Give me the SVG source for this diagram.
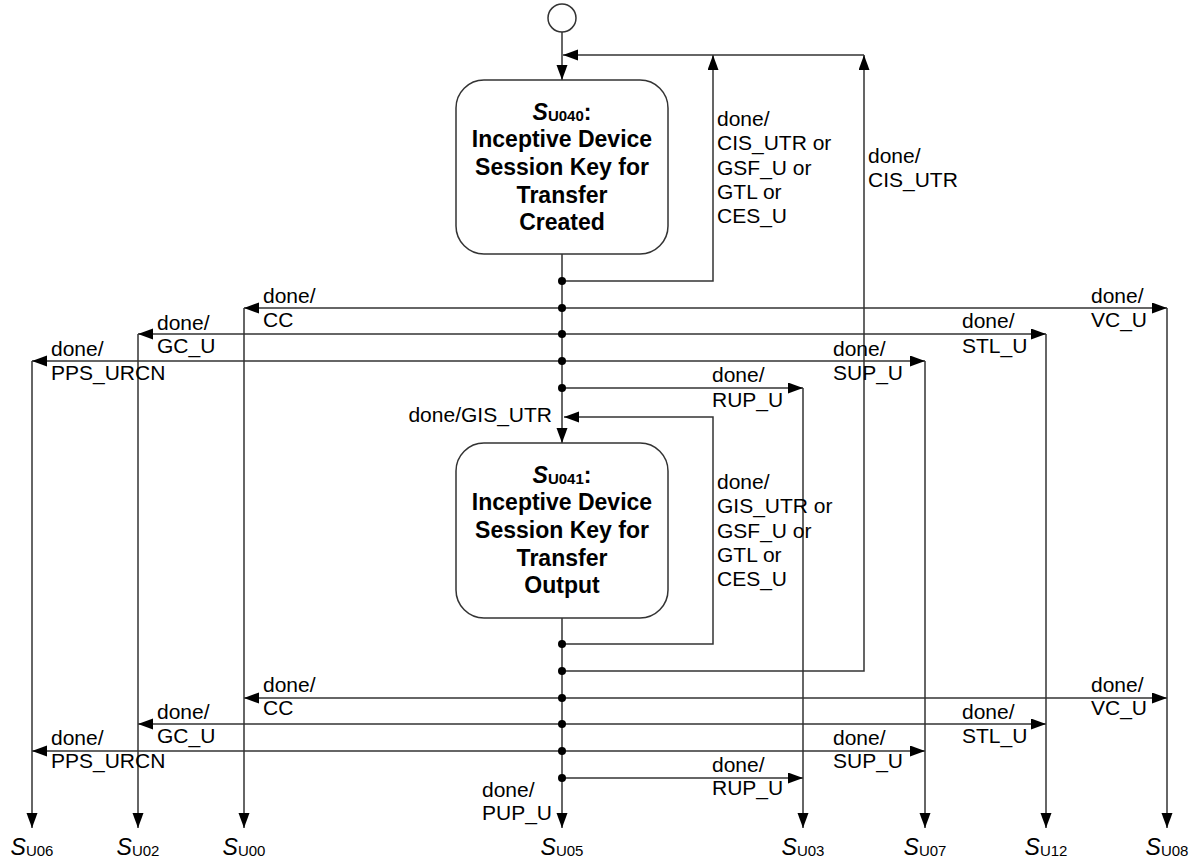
<svg xmlns="http://www.w3.org/2000/svg" width="1198" height="861" viewBox="0 0 1198 861">
<style>
.ln{fill:none;stroke:#333;stroke-width:1.5}
.box{fill:#fff;stroke:#333;stroke-width:1.5}
.dot{fill:#000}
.lbl{font-family:"Liberation Sans",Arial,sans-serif;font-size:21px;fill:#000}
.nt{font-family:"Liberation Sans",Arial,sans-serif;font-size:23px;font-weight:bold;fill:#000;text-anchor:middle}
.st{font-family:"Liberation Sans",Arial,sans-serif;font-size:23px;fill:#000;text-anchor:middle}
.it{font-style:italic}
.sub{font-size:15px}
</style>
<defs>
<marker id="ah" markerUnits="userSpaceOnUse" markerWidth="16" markerHeight="12" refX="15" refY="5.5" orient="auto">
<path d="M0,0 L15,5.5 L0,11 z" fill="#000"/>
</marker>
</defs>
<g id="start">
<circle cx="562" cy="18" r="14" fill="#fff" stroke="#333" stroke-width="1.5"/>
</g>
<g id="connectors">
<path class="ln" d="M562,32 V80" marker-end="url(#ah)"/>
<path class="ln" d="M562,281 H713 V55" marker-end="url(#ah)"/>
<path class="ln" d="M562,671 H864 V55" marker-end="url(#ah)"/>
<path class="ln" d="M864,55 H563" marker-end="url(#ah)"/>
<path class="ln" d="M562,254 V443" marker-end="url(#ah)"/>
<path class="ln" d="M562,644 H713 V417 H564" marker-end="url(#ah)"/>
<path class="ln" d="M562,618 V828" marker-end="url(#ah)"/>
<!-- top block left -->
<path class="ln" d="M562,308 H244" marker-end="url(#ah)"/>
<path class="ln" d="M562,334 H138" marker-end="url(#ah)"/>
<path class="ln" d="M562,361 H32" marker-end="url(#ah)"/>
<!-- top block right -->
<path class="ln" d="M562,308 H1167" marker-end="url(#ah)"/>
<path class="ln" d="M562,334 H1046" marker-end="url(#ah)"/>
<path class="ln" d="M562,361 H925" marker-end="url(#ah)"/>
<path class="ln" d="M562,388 H803" marker-end="url(#ah)"/>
<!-- bottom block left -->
<path class="ln" d="M562,698 H244" marker-end="url(#ah)"/>
<path class="ln" d="M562,724 H138" marker-end="url(#ah)"/>
<path class="ln" d="M562,751 H32" marker-end="url(#ah)"/>
<!-- bottom block right -->
<path class="ln" d="M562,698 H1167" marker-end="url(#ah)"/>
<path class="ln" d="M562,724 H1046" marker-end="url(#ah)"/>
<path class="ln" d="M562,751 H925" marker-end="url(#ah)"/>
<path class="ln" d="M562,778 H803" marker-end="url(#ah)"/>
<!-- verticals to targets -->
<path class="ln" d="M32,361 V828" marker-end="url(#ah)"/>
<path class="ln" d="M138,334 V828" marker-end="url(#ah)"/>
<path class="ln" d="M244,308 V828" marker-end="url(#ah)"/>
<path class="ln" d="M803,388 V828" marker-end="url(#ah)"/>
<path class="ln" d="M925,361 V828" marker-end="url(#ah)"/>
<path class="ln" d="M1046,334 V828" marker-end="url(#ah)"/>
<path class="ln" d="M1167,308 V828" marker-end="url(#ah)"/>
<!-- junction dots -->
<circle class="dot" cx="562" cy="281" r="4"/>
<circle class="dot" cx="562" cy="308" r="4"/>
<circle class="dot" cx="562" cy="334" r="4"/>
<circle class="dot" cx="562" cy="361" r="4"/>
<circle class="dot" cx="562" cy="388" r="4"/>
<circle class="dot" cx="562" cy="644" r="4"/>
<circle class="dot" cx="562" cy="671" r="4"/>
<circle class="dot" cx="562" cy="698" r="4"/>
<circle class="dot" cx="562" cy="724" r="4"/>
<circle class="dot" cx="562" cy="751" r="4"/>
<circle class="dot" cx="562" cy="778" r="4"/>
<!-- labels -->
<text class="lbl" x="717" y="126">done/</text>
<text class="lbl" x="717" y="150">CIS_UTR or</text>
<text class="lbl" x="717" y="175">GSF_U or</text>
<text class="lbl" x="717" y="199">GTL or</text>
<text class="lbl" x="717" y="223">CES_U</text>
<text class="lbl" x="868" y="163">done/</text>
<text class="lbl" x="868" y="187">CIS_UTR</text>
<text class="lbl" x="263" y="303">done/</text>
<text class="lbl" x="263" y="327">CC</text>
<text class="lbl" x="157" y="330">done/</text>
<text class="lbl" x="157" y="353">GC_U</text>
<text class="lbl" x="51" y="356">done/</text>
<text class="lbl" x="51" y="380">PPS_URCN</text>
<text class="lbl" x="1091" y="303">done/</text>
<text class="lbl" x="1091" y="327">VC_U</text>
<text class="lbl" x="962" y="328">done/</text>
<text class="lbl" x="962" y="353">STL_U</text>
<text class="lbl" x="833" y="356">done/</text>
<text class="lbl" x="833" y="380">SUP_U</text>
<text class="lbl" x="712" y="382">done/</text>
<text class="lbl" x="712" y="407">RUP_U</text>
<text class="lbl" x="552" y="422" text-anchor="end">done/GIS_UTR</text>
<text class="lbl" x="717" y="489">done/</text>
<text class="lbl" x="717" y="513">GIS_UTR or</text>
<text class="lbl" x="717" y="538">GSF_U or</text>
<text class="lbl" x="717" y="562">GTL or</text>
<text class="lbl" x="717" y="586">CES_U</text>
<text class="lbl" x="263" y="692">done/</text>
<text class="lbl" x="263" y="715">CC</text>
<text class="lbl" x="157" y="719">done/</text>
<text class="lbl" x="157" y="743">GC_U</text>
<text class="lbl" x="51" y="745">done/</text>
<text class="lbl" x="51" y="768">PPS_URCN</text>
<text class="lbl" x="1091" y="692">done/</text>
<text class="lbl" x="1091" y="715">VC_U</text>
<text class="lbl" x="962" y="719">done/</text>
<text class="lbl" x="962" y="743">STL_U</text>
<text class="lbl" x="833" y="745">done/</text>
<text class="lbl" x="833" y="768">SUP_U</text>
<text class="lbl" x="712" y="772">done/</text>
<text class="lbl" x="712" y="795">RUP_U</text>
<text class="lbl" x="482" y="797">done/</text>
<text class="lbl" x="482" y="820">PUP_U</text>
</g>
<g id="SU040">
<rect class="box" x="456" y="80" width="212" height="174" rx="28" ry="28"/>
<text class="nt" x="562" y="120"><tspan class="it">S</tspan><tspan class="sub" dy="1">U040</tspan><tspan dy="-1">:</tspan></text>
<text class="nt" x="562" y="147">Inceptive Device</text>
<text class="nt" x="562" y="175">Session Key for</text>
<text class="nt" x="562" y="203">Transfer</text>
<text class="nt" x="562" y="230">Created</text>
</g>
<g id="SU041">
<rect class="box" x="456" y="443" width="212" height="175" rx="28" ry="28"/>
<text class="nt" x="562" y="483"><tspan class="it">S</tspan><tspan class="sub" dy="1">U041</tspan><tspan dy="-1">:</tspan></text>
<text class="nt" x="562" y="510">Inceptive Device</text>
<text class="nt" x="562" y="538">Session Key for</text>
<text class="nt" x="562" y="566">Transfer</text>
<text class="nt" x="562" y="593">Output</text>
</g>
<g id="SU06"><text class="st" x="32" y="855"><tspan class="it">S</tspan><tspan class="sub" dy="1">U06</tspan></text></g>
<g id="SU02"><text class="st" x="138" y="855"><tspan class="it">S</tspan><tspan class="sub" dy="1">U02</tspan></text></g>
<g id="SU00"><text class="st" x="244" y="855"><tspan class="it">S</tspan><tspan class="sub" dy="1">U00</tspan></text></g>
<g id="SU05"><text class="st" x="562" y="855"><tspan class="it">S</tspan><tspan class="sub" dy="1">U05</tspan></text></g>
<g id="SU03"><text class="st" x="803" y="855"><tspan class="it">S</tspan><tspan class="sub" dy="1">U03</tspan></text></g>
<g id="SU07"><text class="st" x="925" y="855"><tspan class="it">S</tspan><tspan class="sub" dy="1">U07</tspan></text></g>
<g id="SU12"><text class="st" x="1046" y="855"><tspan class="it">S</tspan><tspan class="sub" dy="1">U12</tspan></text></g>
<g id="SU08"><text class="st" x="1167" y="855"><tspan class="it">S</tspan><tspan class="sub" dy="1">U08</tspan></text></g>
</svg>
